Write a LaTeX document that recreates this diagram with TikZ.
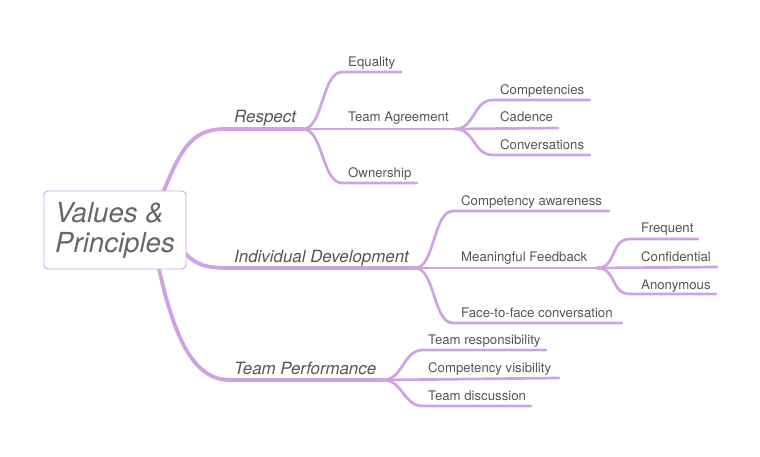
\documentclass[tikz,border=0pt]{standalone}
\usepackage{fontspec}
\setmainfont{TeX Gyre Heros}
\usetikzlibrary{backgrounds}
\definecolor{lav}{HTML}{CFA2E5}
\definecolor{txt}{HTML}{555555}
\definecolor{roottxt}{HTML}{666666}
\tikzset{
  br/.style={draw=lav, line width=2.7pt, line cap=round},
  mainbr/.style={draw=lav, line width=3.4pt, line cap=round},
  sublbl/.style={anchor=base west, inner sep=0pt, text=txt, font=\fontsize{13.2}{15}\selectfont},
  mainlbl/.style={anchor=base west, inner sep=0pt, text=txt, font=\fontsize{16.9}{19}\selectfont\itshape},
  rootbox/.style={draw=lav, line width=0.9pt, fill=white, rounded corners=4pt, minimum width=142pt, minimum height=78pt, align=left, text=roottxt, font=\fontsize{27.6}{30}\selectfont\itshape, inner sep=0pt}
}
\newcommand{\sbr}[2]{(#1) .. controls ([xshift=20pt]#1) and ([xshift=-20pt]#2) .. (#2)}
\begin{document}
\begin{tikzpicture}[x=1pt,y=-1pt]
\useasboundingbox (0,0) rectangle (760,457);
\node[rootbox] (root) at (115,230) {Values \&\\Principles};

% coordinates
\coordinate (rrs) at (158,205);
\coordinate (rre) at (225,129);
\coordinate (R0) at (303,129);
\coordinate (eqs) at (342,72);   \coordinate (eqe) at (401,72);
\coordinate (TA) at (455,129);
\coordinate (ows) at (342,183);  \coordinate (owe) at (417,183);
\coordinate (cps) at (493,100);  \coordinate (cpe) at (590,100);
\coordinate (cde) at (558,128);
\coordinate (cvs) at (493,155);  \coordinate (cve) at (590,155);

\coordinate (ids) at (175,240);
\coordinate (ide) at (230,268);
\coordinate (I0) at (415,268);
\coordinate (cas) at (453,211);  \coordinate (cae) at (609,211);
\coordinate (MF) at (597,268);
\coordinate (ffs) at (453,323);  \coordinate (ffe) at (622,323);
\coordinate (frs) at (630,239);  \coordinate (fre) at (698,239);
\coordinate (cfe) at (717,267);
\coordinate (ans) at (630,294);  \coordinate (ane) at (716,294);

\coordinate (tps) at (155,250);
\coordinate (tpe) at (230,380);
\coordinate (T0) at (383,380);
\coordinate (trs) at (423,350);  \coordinate (tre) at (546,350);
\coordinate (cvis) at (559,378);
\coordinate (tds) at (423,406);  \coordinate (tde) at (531,406);

\begin{pgfonlayer}{background}
% root branches
\draw[mainbr, line width=3.8pt] (rrs) .. controls (180,150) and (190,129) .. (rre) -- (R0);
\draw[mainbr, line width=3.8pt] (ids) .. controls (192,266) and (205,268) .. (ide) -- (I0);
\draw[mainbr, line width=3.8pt] (tps) .. controls (172,335) and (192,380) .. (tpe) -- (T0);
% Respect
\draw[br] \sbr{R0}{eqs} -- (eqe);
\draw[br] (R0) -- (TA);
\draw[br] \sbr{R0}{ows} -- (owe);
\draw[br] \sbr{TA}{cps} -- (cpe);
\draw[br] (TA) -- (cde);
\draw[br] \sbr{TA}{cvs} -- (cve);
% Individual Development
\draw[br] \sbr{I0}{cas} -- (cae);
\draw[br] (I0) -- (MF);
\draw[br] \sbr{I0}{ffs} -- (ffe);
\draw[br] \sbr{MF}{frs} -- (fre);
\draw[br] (MF) -- (cfe);
\draw[br] \sbr{MF}{ans} -- (ane);
% Team Performance
\draw[br] \sbr{T0}{trs} -- (tre);
\draw[br] (T0) -- (cvis);
\draw[br] \sbr{T0}{tds} -- (tde);
\end{pgfonlayer}

% labels
\node[mainlbl] (respect) at (234,123) {Respect};
\node[mainlbl] (indiv) at (234,262) {Individual Development};
\node[mainlbl] (teamp) at (234,374) {Team Performance};

\node[sublbl] (equality) at (348,67) {Equality};
\node[sublbl] (teamag) at (348,122) {Team Agreement};
\node[sublbl] (ownership) at (348,178) {Ownership};
\node[sublbl] (competencies) at (500,95) {Competencies};
\node[sublbl] (cadence) at (500,122) {Cadence};
\node[sublbl] (conversations) at (500,150) {Conversations};

\node[sublbl] (compaw) at (461,205) {Competency awareness};
\node[sublbl] (meanfb) at (461,261) {Meaningful Feedback};
\node[sublbl] (facetoface) at (461,317) {Face-to-face conversation};
\node[sublbl] (frequent) at (641,233) {Frequent};
\node[sublbl] (confidential) at (641,261) {Confidential};
\node[sublbl] (anonymous) at (641,289) {Anonymous};

\node[sublbl] (teamresp) at (428,344) {Team responsibility};
\node[sublbl] (compvis) at (428,372) {Competency visibility};
\node[sublbl] (teamdisc) at (428,400) {Team discussion};
\end{tikzpicture}
\end{document}
